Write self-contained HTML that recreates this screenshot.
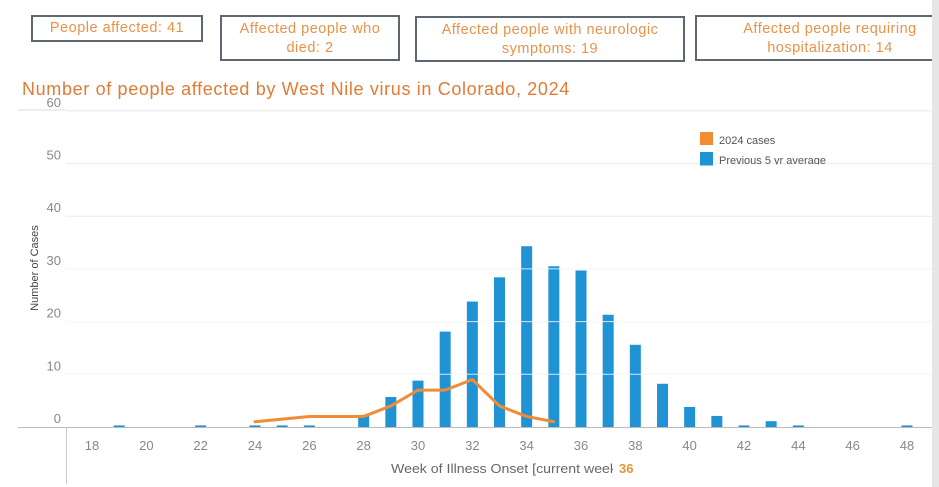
<!DOCTYPE html>
<html><head><meta charset="utf-8"><style>
body{margin:0;width:939px;height:487px;background:#fff;overflow:hidden;font-family:"Liberation Sans",sans-serif;position:relative}
.box{position:absolute;border:2px solid #5f6770;color:#e8924a;font-size:14.5px;text-align:center;line-height:19px;box-sizing:border-box;letter-spacing:0.5px}
#title{position:absolute;left:22px;top:79px;color:#e07b35;font-size:18px;letter-spacing:0.65px}
#sb{position:absolute;left:932px;top:0;width:7px;height:487px;background:#e6e6e6}
</style></head><body>
<div class="box" style="left:31px;top:15px;width:172px;height:27px;line-height:23px">People affected: 41</div>
<div class="box" style="left:220px;top:15px;width:180px;height:46px;padding-top:3px">Affected people who<br>died: 2</div>
<div class="box" style="left:415px;top:16px;width:270px;height:46px;padding-top:3px">Affected people with neurologic<br>symptoms: 19</div>
<div class="box" style="left:695px;top:15px;width:240px;height:46px;padding-top:3px;padding-left:30px">Affected people requiring<br>hospitalization: 14</div>
<div id="title">Number of people affected by West Nile virus in Colorado, 2024</div>
<svg id="chart" width="939" height="487" style="position:absolute;left:0;top:0"></svg>
<div id="sb"></div>
<script>
const weeks=[19,22,24,25,26,28,29,30,31,32,33,34,35,36,37,38,39,40,41,42,43,44,48];
const avgValues=[0.3,0.3,0.3,0.3,0.3,2.3,5.7,8.8,18.1,23.8,28.4,34.3,30.5,29.7,21.3,15.6,8.2,3.8,2.1,0.3,1.1,0.3,0.3];
const lineWeeks=[24,26,28,29,30,31,32,33,34,35];
const lineValues=[1,2,2,4,7,7,9,4,2,1];
const yTicks=[0,10,20,30,40,50,60];
const xTicks=[18,20,22,24,26,28,30,32,34,36,38,40,42,44,46,48];
const NS="http://www.w3.org/2000/svg";
const svg=document.getElementById('chart');
const x=w=>92+(w-18)*(907-92)/30;
const y=v=>427-v*5.27;
function mk(t,a,p){const e=document.createElementNS(NS,t);for(const k in a)e.setAttribute(k,a[k]);(p||svg).appendChild(e);return e;}
yTicks.forEach(t=>{
  if(t>0){const g=mk('line',{x1:66,x2:932,y1:y(t),y2:y(t),stroke:'#f0f0f0','stroke-width':1.5});
  
  }
  const l=mk('text',{x:61,y:y(t)-4,'text-anchor':'end','font-size':13,fill:'#888'});l.textContent=t;
  
  
});
mk('line',{x1:18,x2:66,y1:110,y2:110,stroke:'#ddd'});
mk('line',{x1:18,x2:932,y1:427.5,y2:427.5,stroke:'#bbb'});
mk('line',{x1:66.5,x2:66.5,y1:427,y2:484,stroke:'#ccc'});
weeks.forEach((w,i)=>{
  const b=mk('rect',{x:x(w)-5.5,y:y(avgValues[i]),width:11,height:427-y(avgValues[i]),fill:'#1f93d3'});
  
  
});
[10,20,30].forEach(t=>mk('line',{x1:66,x2:932,y1:y(t),y2:y(t),stroke:'#fff','stroke-width':1,opacity:0.8}));
const pts=lineWeeks.map((w,i)=>x(w)+','+y(lineValues[i])).join(' ');
const pl=mk('polyline',{points:pts,fill:'none',stroke:'#f08c35','stroke-width':3,'stroke-linejoin':'round','stroke-linecap':'round'});


xTicks.forEach(t=>{const l=mk('text',{x:x(t),y:450,'text-anchor':'middle','font-size':13,fill:'#888'});l.textContent=t;
  
  });
const yt=mk('text',{transform:'translate(38,268) rotate(-90)','text-anchor':'middle','font-size':11,fill:'#444'});yt.textContent='Number of Cases';


const xt=mk('text',{x:391,y:473,'font-size':13,fill:'#666',textLength:226,lengthAdjust:'spacingAndGlyphs'});xt.textContent='Week of Illness Onset [current week';


mk('rect',{x:613,y:460,width:6,height:16,fill:'#fff'});
const cw=mk('text',{x:619,y:473,'font-size':13,fill:'#e8923a','font-weight':'bold'});cw.textContent='36';


const lg=mk('g',{});


mk('rect',{x:700,y:132,width:13,height:13,fill:'#f08c35'},lg);
const t1=mk('text',{x:719,y:144,'font-size':11,fill:'#555'},lg);t1.textContent='2024 cases';


mk('rect',{x:700,y:152,width:13,height:13,fill:'#1f93d3'},lg);
const t2=mk('text',{x:719,y:164,'font-size':11,fill:'#555'},lg);t2.textContent='Previous 5 yr average';


mk('rect',{x:698,y:164.5,width:160,height:6,fill:'#fff'},lg);
mk('rect',{x:700,y:164,width:13,height:1.5,fill:'#1f93d3'},lg);
</script>
</body></html>
